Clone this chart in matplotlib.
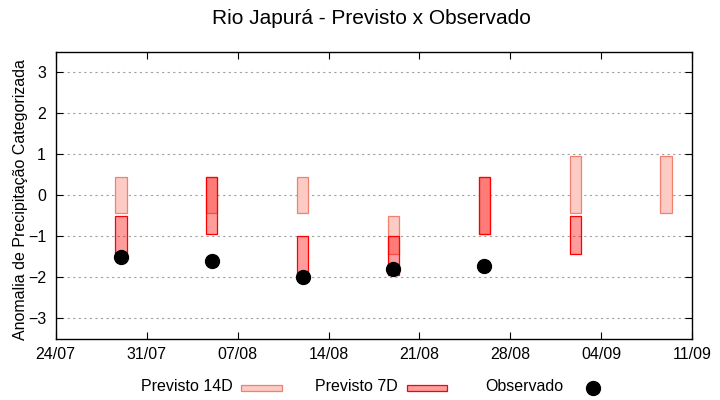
import datetime as dt
import matplotlib
matplotlib.use("Agg")
import matplotlib.pyplot as plt
import matplotlib.dates as mdates
from matplotlib.patches import Rectangle
from matplotlib.lines import Line2D

plt.rcParams['font.family'] = ['Liberation Sans', 'DejaVu Sans']

# Dados
datas_14d = ["29/07", "05/08", "12/08", "19/08", "26/08", "02/09", "09/09"]
min_14d = [-0.44, -0.44, -0.44, -1.44, -0.95, -0.44, -0.44]
max_14d = [0.44, 0.44, 0.44, -0.51, 0.44, 0.95, 0.95]

datas_7d = ["29/07", "05/08", "12/08", "19/08", "26/08", "02/09"]
min_7d = [-1.44, -0.95, -1.95, -1.95, -0.95, -1.44]
max_7d = [-0.51, 0.44, -1.0, -1.0, 0.44, -0.51]

datas_obs = ["29/07", "05/08", "12/08", "19/08", "26/08"]
observado = [-1.51, -1.61, -2.0, -1.80, -1.71]

ticks_x = ["24/07", "31/07", "07/08", "14/08", "21/08", "28/08", "04/09", "11/09"]


def para_data(s, ano=2024):
    d, m = s.split("/")
    return dt.datetime(ano, int(m), int(d))


x14 = [para_data(s) for s in datas_14d]
x7 = [para_data(s) for s in datas_7d]
xobs = [para_data(s) for s in datas_obs]
xt = [para_data(s) for s in ticks_x]

fs = 11.5

fig = plt.figure(figsize=(7.2, 4.0), dpi=100)
ax = fig.add_axes([0.0774, 0.1525, 0.8841, 0.7183])

ax.bar(x14, [a - b for a, b in zip(max_14d, min_14d)], bottom=min_14d, width=0.9,
       color="#fccbc4", edgecolor="#f08070", linewidth=0.9, zorder=2)
ax.bar(x7, [a - b for a, b in zip(max_7d, min_7d)], bottom=min_7d, width=0.9,
       color=(1, 0, 0, 0.39), edgecolor="#ff0000", linewidth=0.9, zorder=3)
ax.plot(xobs, observado, "o", color="black", markersize=10, zorder=4)

ax.set_xlim(xt[0], xt[-1])
ax.set_ylim(-3.5, 3.5)
ax.set_xticks(xt)
ax.xaxis.set_major_formatter(mdates.DateFormatter("%d/%m"))
ax.set_yticks(range(-3, 4))
ax.tick_params(direction="in", length=5, width=0.8, labelsize=fs,
               top=True, right=True, pad=7)
ax.tick_params(axis="x", pad=6)
ax.grid(axis="y", color="#a0a0a0", linestyle=(0, (2, 3)), linewidth=0.8, zorder=1)
for s in ax.spines.values():
    s.set_linewidth(1.0)

ax.set_ylabel("Anomalia de Precipitação Categorizada", fontsize=fs)
ax.yaxis.set_label_coords(-0.043, 0.487)
fig.text(0.516, 0.954, "Rio Japurá - Previsto x Observado", ha="center",
         va="center", fontsize=15)

# Legenda
y_leg = 1 - 386.5 / 400
fig.text(233 / 720, y_leg, "Previsto 14D", ha="right", va="center", fontsize=fs)
fig.patches.append(Rectangle((241 / 720, 1 - 391 / 400), 41 / 720, 6 / 400,
                             transform=fig.transFigure, facecolor="#fccbc4",
                             edgecolor="#f08070", linewidth=0.9))
fig.text(398 / 720, y_leg, "Previsto 7D", ha="right", va="center", fontsize=fs)
fig.patches.append(Rectangle((407 / 720, 1 - 391 / 400), 40 / 720, 6 / 400,
                             transform=fig.transFigure, facecolor="#ff9c9c",
                             edgecolor="#ff0000", linewidth=0.9))
fig.text(563 / 720, y_leg, "Observado", ha="right", va="center", fontsize=fs)
fig.lines.append(Line2D([593 / 720], [1 - 388 / 400], marker="o", color="black",
                        markersize=10, transform=fig.transFigure))

fig.savefig("out.png", dpi=100)
